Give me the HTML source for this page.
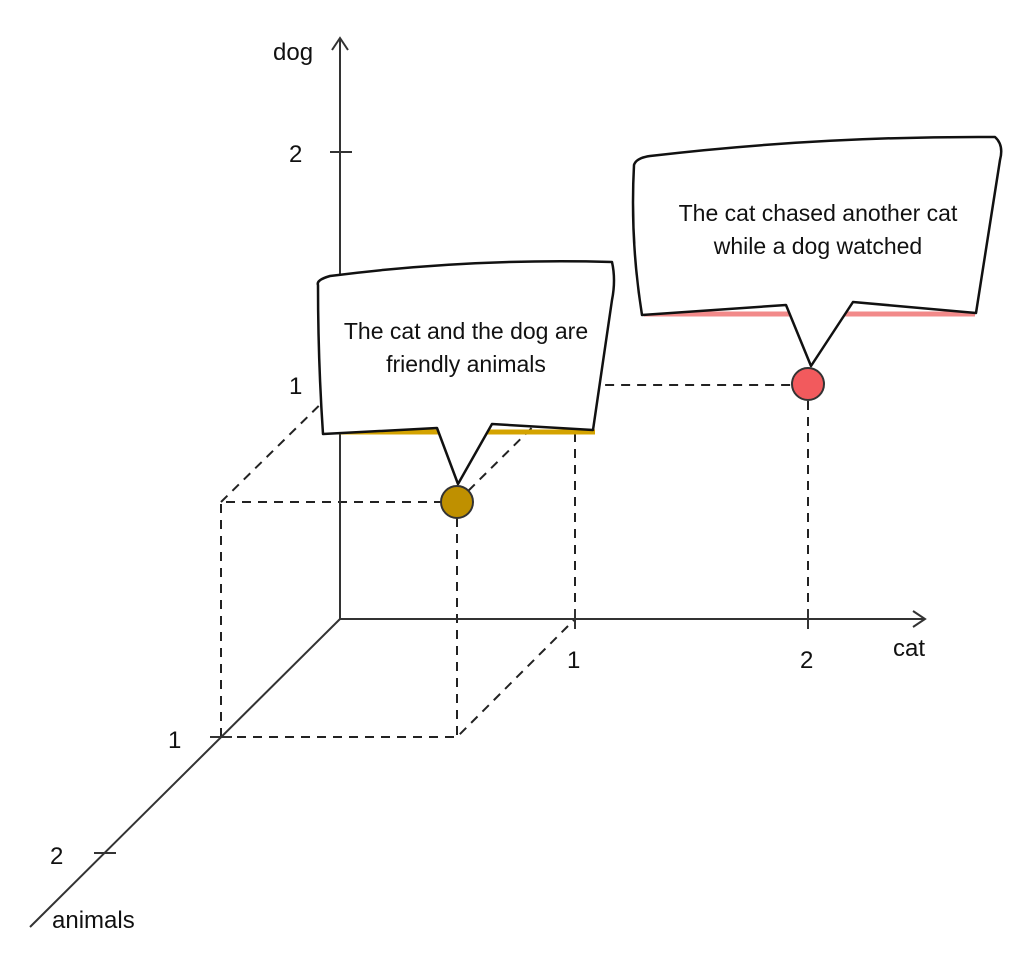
<!DOCTYPE html>
<html><head><meta charset="utf-8"><style>
html,body{margin:0;padding:0;background:#fff;}
svg{display:block;}
text{font-family:"Liberation Sans",sans-serif;fill:#111;}
</style></head><body>
<svg width="1026" height="954" viewBox="0 0 1026 954" xmlns="http://www.w3.org/2000/svg">
<g stroke="#222" stroke-width="2" fill="none" stroke-dasharray="9,7">
<path d="M221 737 H457 L575 619"/>
<path d="M221 737 V502 H457"/>
<path d="M221 502 L340 385 H808"/>
<path d="M575 385 V619"/>
<path d="M457 502 L575 385"/>
<path d="M457 502 V737"/>
<path d="M808 385 V619"/>
</g>
<g stroke="#333" stroke-width="2" fill="none">
<path d="M340 619 V38"/>
<path d="M332 50 L340 38 L348 50"/>
<path d="M340 619 H925"/>
<path d="M913 611 L925 619 L913 627"/>
<path d="M340 619 L30 927"/>
<path d="M330 152 H352"/>
<path d="M575 609 V629"/>
<path d="M808 609 V629"/>
<path d="M210 737 H232"/>
<path d="M94 853 H116"/>
</g>
<g font-size="24">
<text x="273" y="60">dog</text>
<text x="289" y="162">2</text>
<text x="289" y="394">1</text>
<text x="567" y="668">1</text>
<text x="800" y="668">2</text>
<text x="893" y="656">cat</text>
<text x="168" y="748">1</text>
<text x="50" y="864">2</text>
<text x="52" y="928">animals</text>
</g>
<circle cx="457" cy="502" r="16" fill="#bf9000" stroke="#333" stroke-width="2"/>
<circle cx="808" cy="384" r="16" fill="#f25a5d" stroke="#333" stroke-width="2"/>
<path d="M335 432 H595" stroke="#d4a300" stroke-width="5"/>
<path d="M644 314 H975" stroke="#f28a8a" stroke-width="5"/>
<path d="M318 285 Q316 280 330 276 Q470 258 612 262 Q616 280 612 300 L593 430 L492 424 L458 484 L437 428 L323 434 Q318 360 318 285 Z" fill="#fff" stroke="#111" stroke-width="2.5" stroke-linejoin="round"/>
<path d="M634 165 Q636 158 650 156 Q820 136 995 137 Q1004 145 1000 160 L976 313 L853 302 L811 366 L786 305 L642 315 Q630 240 634 165 Z" fill="#fff" stroke="#111" stroke-width="2.5" stroke-linejoin="round"/>
<g font-size="23" text-anchor="middle">
<text x="466" y="339">The cat and the dog are</text>
<text x="466" y="372">friendly animals</text>
<text x="818" y="221">The cat chased another cat</text>
<text x="818" y="254">while a dog watched</text>
</g>
</svg>
</body></html>
